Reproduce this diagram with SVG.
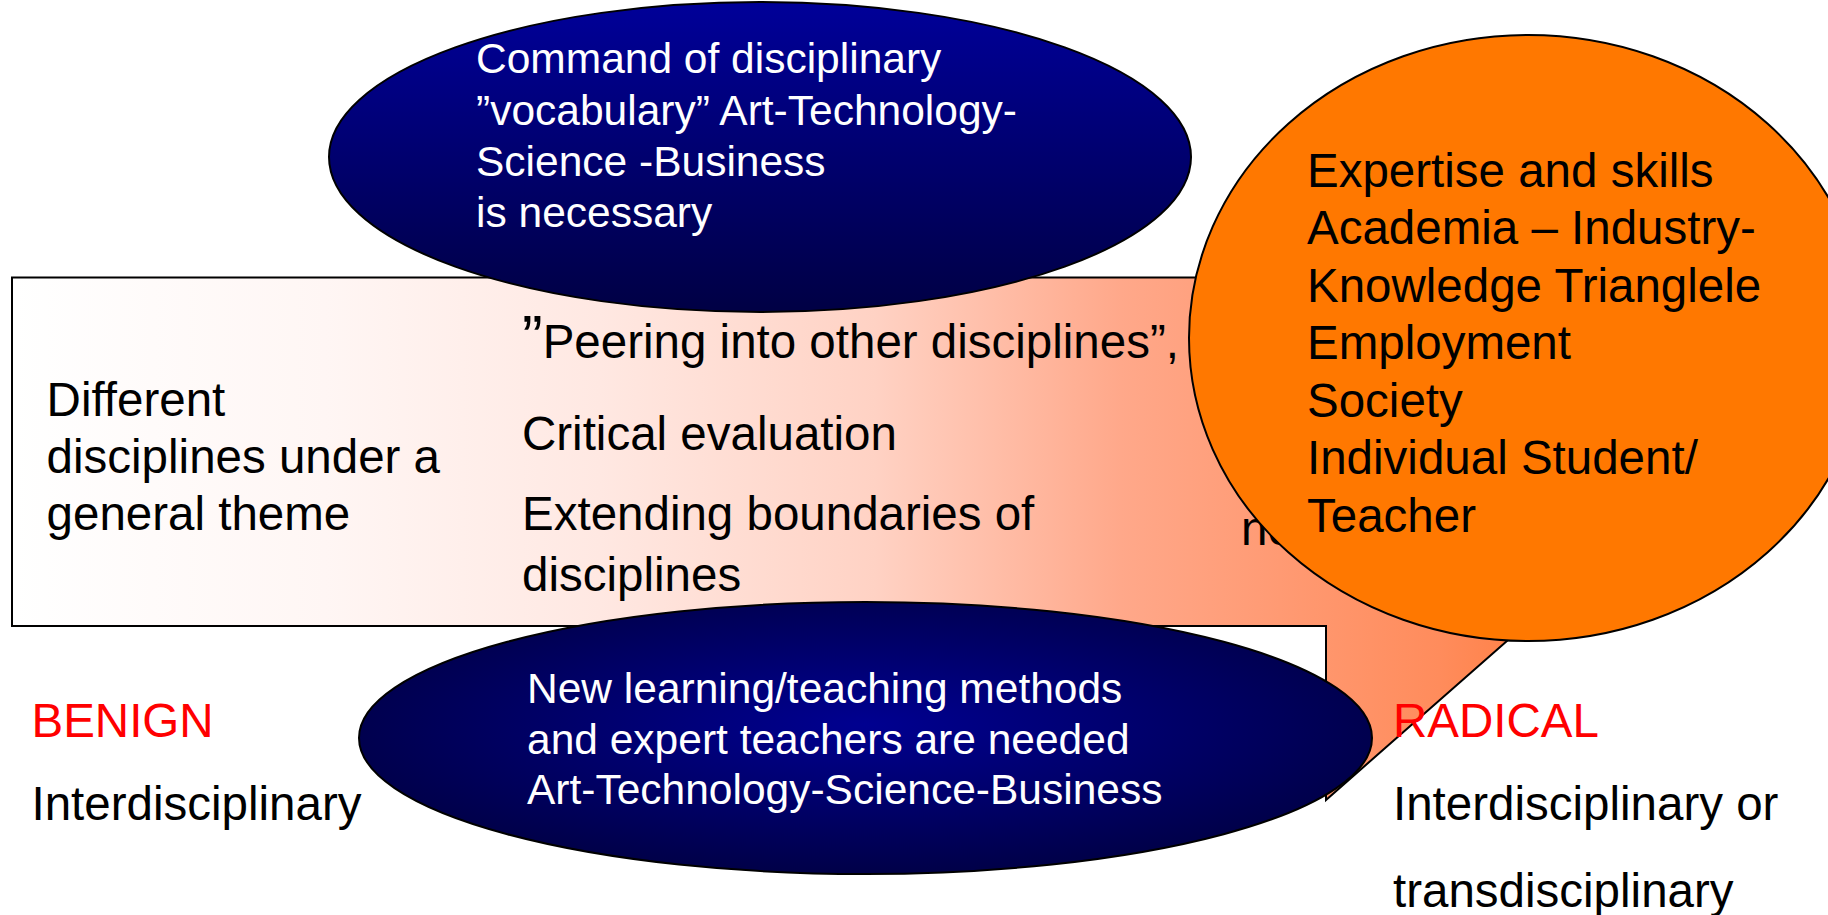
<svg xmlns="http://www.w3.org/2000/svg" width="1828" height="915" viewBox="0 0 1828 915">
<defs>
<linearGradient id="gCallout" gradientUnits="userSpaceOnUse" x1="12" y1="0" x2="1580" y2="0">
<stop offset="0" stop-color="#FFFFFF"/>
<stop offset="0.2" stop-color="#FFF6F4"/>
<stop offset="0.375" stop-color="#FFE8E2"/>
<stop offset="0.55" stop-color="#FFD2C4"/>
<stop offset="0.707" stop-color="#FFA88A"/>
<stop offset="0.91" stop-color="#FF8C5C"/>
<stop offset="1" stop-color="#FF7A3A"/>
</linearGradient>
<linearGradient id="gTop" x1="0" y1="0" x2="0" y2="1">
<stop offset="0" stop-color="#000099"/>
<stop offset="1" stop-color="#000044"/>
</linearGradient>
<radialGradient id="gBottom" cx="0.5" cy="0.45" r="0.55">
<stop offset="0" stop-color="#000090"/>
<stop offset="1" stop-color="#000048"/>
</radialGradient>
<style>
text{font-family:"Liberation Sans",Arial,sans-serif;}
.blk{fill:#000000;font-size:47.5px;}
.wht{fill:#FFFFFF;font-size:42.5px;}
.red{fill:#FF0000;font-size:47.5px;}
.edge{stroke:#000000;stroke-width:2;}
</style>
</defs>
<g id="callout">
<polygon points="12,277.5 1580,277.5 1580,626 1524,626 1326,800 1326,626 12,626" fill="url(#gCallout)" class="edge"/>
<text class="blk" x="46.6" y="416">Different</text>
<text class="blk" x="46.6" y="473">disciplines under a</text>
<text class="blk" x="46.6" y="530">general theme</text>
<text class="blk" x="522" y="358"><tspan font-size="62">”</tspan>Peering into other disciplines”,</text>
<text class="blk" x="522" y="450">Critical evaluation</text>
<text class="blk" x="522" y="530">Extending boundaries of</text>
<text class="blk" x="522" y="591">disciplines</text>
<text class="blk" x="1241" y="545">ne</text>
</g>
<g id="top-ellipse">
<ellipse cx="760" cy="157" rx="431" ry="155" fill="url(#gTop)" class="edge"/>
<text class="wht" x="476" y="73">Command of disciplinary</text>
<text class="wht" x="476" y="124.5">”vocabulary” Art-Technology-</text>
<text class="wht" x="476" y="176">Science -Business</text>
<text class="wht" x="476" y="227">is necessary</text>
</g>
<g id="bottom-ellipse">
<ellipse cx="865.5" cy="738" rx="506.5" ry="136" fill="url(#gBottom)" class="edge"/>
<text class="wht" x="527" y="703">New learning/teaching methods</text>
<text class="wht" x="527" y="754">and expert teachers are needed</text>
<text class="wht" x="527" y="804">Art-Technology-Science-Business</text>
</g>
<g id="orange-ellipse">
<ellipse cx="1528" cy="338" rx="339" ry="303" fill="#FF7800" class="edge"/>
<text class="blk" x="1307" y="186.5">Expertise and skills</text>
<text class="blk" x="1307" y="244">Academia – Industry-</text>
<text class="blk" x="1307" y="301.5">Knowledge Trianglele</text>
<text class="blk" x="1307" y="359">Employment</text>
<text class="blk" x="1307" y="416.5">Society</text>
<text class="blk" x="1307" y="474">Individual Student/</text>
<text class="blk" x="1307" y="531.5">Teacher</text>
</g>
<g id="benign">
<text class="red" x="31.5" y="737">BENIGN</text>
<text class="blk" x="31.5" y="820">Interdisciplinary</text>
</g>
<g id="radical">
<text class="red" x="1393" y="737">RADICAL</text>
<text class="blk" x="1393" y="820">Interdisciplinary or</text>
<text class="blk" x="1393" y="907">transdisciplinary</text>
</g>
<g id="connectors"></g>
</svg>
